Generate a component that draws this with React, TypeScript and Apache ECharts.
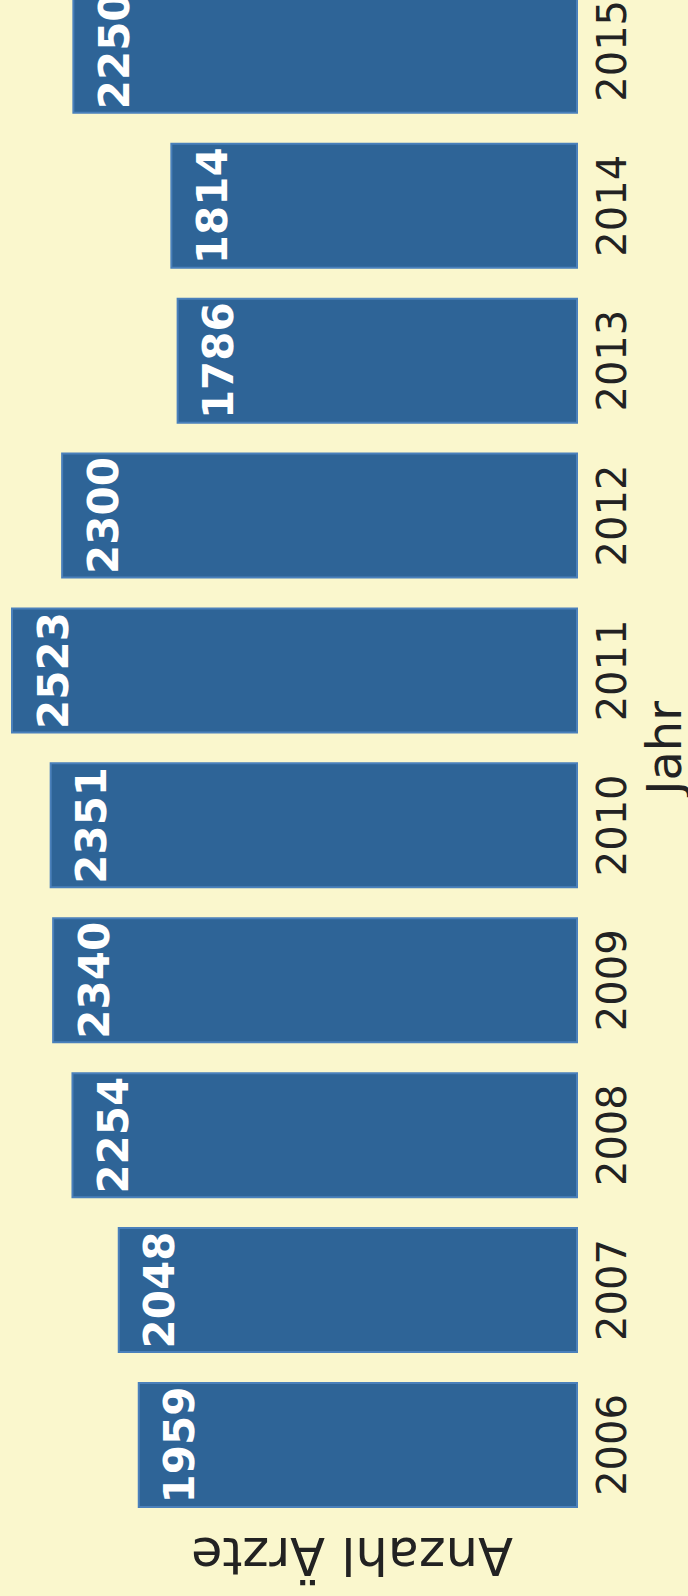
import React, { useEffect, useRef } from "react";
import * as echarts from "echarts";

const years = ["2006", "2007", "2008", "2009", "2010", "2011", "2012", "2013", "2014", "2015"];
const doctors = [1959, 2048, 2254, 2340, 2351, 2523, 2300, 1786, 1814, 2250];
const valueAxisTitle = "Anzahl Ärzte";
const categoryAxisTitle = "Jahr";

const FONT = "DejaVu Sans";
const BG = "#faf7cd";

export default function App() {
  const ref = useRef<HTMLDivElement>(null);

  useEffect(() => {
    document.body.style.margin = "0";
    document.body.style.background = BG;
    const chart = echarts.init(ref.current!, null, { renderer: "svg" });
    chart.setOption({
      animation: false,
      backgroundColor: BG,
      grid: {
        left: 0,
        right: 110,
        top: -26.6,
        bottom: 73.6,
        containLabel: false,
        outerBoundsMode: "none",
      },
      xAxis: {
        type: "value",
        inverse: true,
        min: 0,
        max: 2572,
        show: false,
      },
      yAxis: {
        type: "category",
        data: years,
        position: "right",
        axisLine: { show: false },
        axisTick: { show: false },
        axisLabel: {
          rotate: 90,
          margin: 14,
          fontFamily: FONT,
          fontSize: 40,
          color: "#222",
        },
        name: categoryAxisTitle,
        nameLocation: "middle",
        nameRotate: 90,
        nameGap: 57,
        nameTextStyle: { fontFamily: FONT, fontSize: 48, color: "#222" },
      },
      series: [
        {
          type: "bar",
          data: doctors,
          barWidth: 126,
          itemStyle: { color: "#2e6497", borderColor: "#4a80bb", borderWidth: 2 },
          label: {
            show: true,
            position: "insideLeft",
            distance: 21,
            rotate: 90,
            align: "center",
            verticalAlign: "top",
            fontFamily: FONT,
            fontSize: 42,
            fontWeight: "bold",
            color: "#ffffff",
          },
        },
      ],
      graphic: [
        {
          type: "text",
          x: 352,
          y: 1555,
          rotation: Math.PI,
          style: {
            text: valueAxisTitle,
            fontFamily: FONT,
            fontSize: 51,
            fill: "#222",
            textAlign: "center",
            textVerticalAlign: "middle",
          },
        },
      ],
    });
    return () => chart.dispose();
  }, []);

  return (
    <div
      ref={ref}
      style={{ position: "absolute", left: 0, top: 0, width: 688, height: 1596, background: BG }}
    />
  );
}
